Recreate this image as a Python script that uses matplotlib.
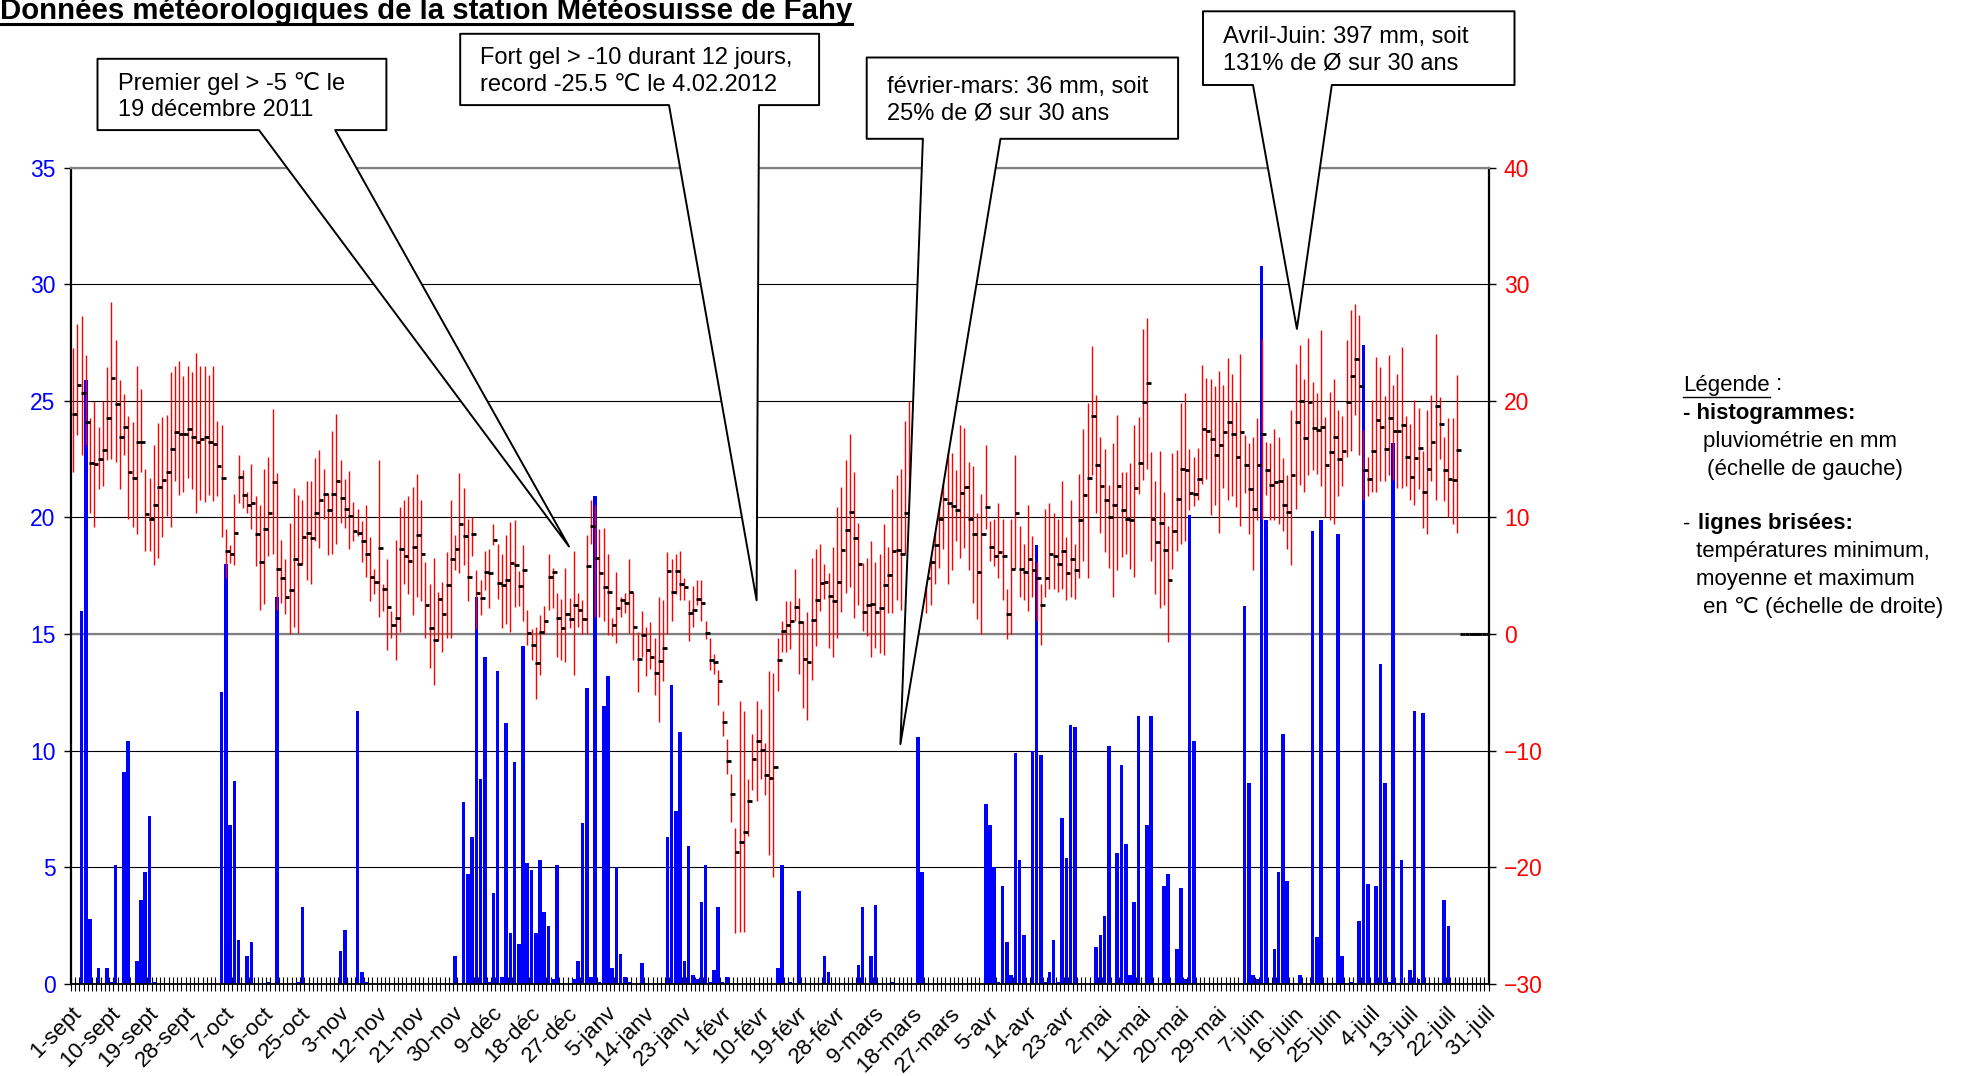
"""
Données météo Fahy (sept 2011 - juil 2012): pluie journalière en barres,
températures min/max (traits rouges) et moyenne (tirets noirs).
"""
import numpy as np
import matplotlib
matplotlib.use('Agg')
import matplotlib.pyplot as plt
import matplotlib.transforms as mtransforms
from matplotlib.patches import Polygon
from matplotlib.lines import Line2D

plt.rcParams['font.family'] = ['Liberation Sans', 'DejaVu Sans']

W, H = 1961, 1076

# ── Données (un jour par valeur, dès le 1er sept) ─────────────────────────────

PRECIP = [
    0, 0, 16.0, 25.9, 2.8, 0, 0.7, 0, 0.7, 0.1,
    5.1, 0, 9.1, 10.4, 0, 1.0, 3.6, 4.8, 7.2, 0.1,
    0, 0, 0, 0, 0, 0, 0, 0, 0, 0,
    0, 0, 0, 0, 0, 12.5, 18.0, 6.8, 8.7, 1.9,
    0, 1.2, 1.8, 0, 0, 0, 0.1, 0, 16.6, 0,
    0, 0, 0, 0.1, 3.3, 0, 0, 0, 0, 0,
    0, 0, 0, 1.4, 2.3, 0, 0, 11.7, 0.5, 0.1,
    0, 0, 0, 0, 0, 0, 0, 0, 0, 0,
    0, 0, 0, 0, 0, 0, 0, 0, 0, 0,
    1.2, 0, 7.8, 4.7, 6.3, 16.6, 8.8, 14.0, 0.1, 3.9,
    13.4, 0.3, 11.2, 2.2, 9.5, 1.7, 14.5, 5.2, 4.9, 2.2,
    5.3, 3.1, 2.5, 0.2, 5.1, 0, 0, 0, 0.2, 1.0,
    6.9, 12.7, 0.3, 20.9, 0.1, 11.9, 13.2, 0.7, 5.0, 1.3,
    0.3, 0.1, 0, 0, 0.9, 0, 0, 0, 0, 0,
    6.3, 12.8, 7.4, 10.8, 1.0, 5.9, 0.4, 0.2, 3.5, 5.1,
    0.1, 0.6, 3.3, 0.1, 0.3, 0, 0, 0, 0, 0,
    0, 0, 0, 0, 0, 0, 0.7, 5.1, 0, 0.1,
    0, 4.0, 0, 0, 0, 0, 0, 1.2, 0.5, 0,
    0, 0, 0, 0, 0, 0.8, 3.3, 0, 1.2, 3.4,
    0, 0, 0, 0.1, 0, 0, 0, 0, 0, 10.6,
    4.8, 0, 0, 0, 0, 0, 0, 0, 0, 0,
    0, 0, 0, 0, 0, 7.7, 6.8, 5.0, 0.1, 4.2,
    1.8, 0.4, 9.9, 5.3, 2.1, 0, 10.0, 18.8, 9.8, 0.1,
    0.5, 1.9, 0.1, 7.1, 5.4, 11.1, 11.0, 0, 0, 0,
    0, 1.6, 2.1, 2.9, 10.2, 0, 5.6, 9.4, 6.0, 0.4,
    3.5, 11.5, 0, 6.8, 11.5, 0, 0, 4.2, 4.7, 0,
    1.5, 4.1, 0.2, 20.1, 10.4, 0, 0, 0, 0, 0,
    0, 0, 0, 0, 0, 0, 16.2, 8.6, 0.4, 0.2,
    30.8, 19.9, 0, 1.5, 4.8, 10.7, 4.4, 0, 0, 0.4,
    0, 0, 19.4, 2.0, 19.9, 0, 0, 0, 19.3, 1.2,
    0, 0.1, 0, 2.7, 27.4, 4.3, 0, 4.2, 13.7, 8.6,
    0.1, 23.2, 0, 5.3, 0, 0.6, 11.7, 0.2, 11.6, 0,
    0, 0, 0, 3.6, 2.5, 0, 0, 0, 0, 0,
    0, 0, 0, 0,
]

TMAX = [
    24.5, 26.6, 27.3, 23.9, 18.5, 20.0, 17.8, 20.0, 22.9, 28.5,
    25.2, 21.8, 20.6, 18.7, 18.2, 23.0, 21.0, 14.2, 13.4, 16.2,
    18.1, 18.6, 18.8, 22.5, 23.0, 23.4, 22.1, 23.0, 22.5, 24.1,
    23.0, 23.0, 22.2, 23.0, 18.3, 17.9, 9.0, 7.6, 12.0, 15.4,
    14.1, 12.2, 14.6, 11.8, 11.1, 14.2, 15.2, 19.3, 13.8, 8.1,
    6.4, 9.5, 12.5, 11.9, 11.5, 13.1, 13.1, 15.1, 15.8, 14.2,
    12.1, 17.4, 18.9, 14.9, 13.3, 14.0, 11.3, 10.7, 9.7, 11.1,
    8.3, 5.6, 14.9, 4.3, 6.4, 2.0, 8.1, 10.9, 11.5, 11.8,
    12.6, 13.7, 11.5, 6.2, 4.3, 6.5, 3.6, 4.5, 7.0, 11.5,
    8.5, 13.8, 12.5, 9.9, 10.0, 5.5, 4.6, 7.1, 7.3, 9.4,
    7.7, 6.9, 8.5, 9.6, 9.8, 5.4, 7.6, 2.1, 0.4, 0.6,
    1.6, 2.4, 6.9, 5.7, 3.5, 3.0, 5.7, 3.1, 7.1, 3.5,
    2.9, 8.5, 11.5, 11.1, 9.0, 9.1, 6.9, 1.4, 5.3, 3.2,
    3.5, 6.4, 3.6, 0.2, 2.0, 0.6, 1.0, -0.3, 3.2, 2.9,
    7.0, 6.4, 6.9, 7.1, 4.8, 2.9, 4.1, 4.6, 4.6, 1.1,
    -0.3, -1.7, -3.1, -6.6, -9.0, -12.0, -16.6, -5.7, -6.6, -12.4,
    -8.6, -5.7, -6.4, -9.3, -3.2, -3.3, -0.3, 1.1, 2.8, 2.8,
    5.6, 3.1, 1.1, 1.9, 6.5, 7.3, 7.7, 6.0, 5.2, 7.5,
    10.9, 12.6, 14.9, 17.2, 13.9, 9.5, 6.1, 6.5, 8.0, 6.2,
    6.9, 9.4, 7.5, 12.4, 13.6, 14.2, 18.3, 20.0, 17.3, 18.3,
    15.5, 9.0, 8.0, 9.4, 14.8, 14.1, 16.3, 15.5, 14.1, 17.9,
    17.7, 14.8, 14.4, 10.4, 12.0, 16.2, 9.7, 9.9, 11.2, 9.9,
    3.9, 9.9, 15.4, 9.3, 7.7, 11.1, 8.4, 6.2, 4.3, 10.7,
    11.2, 10.4, 9.9, 13.1, 8.3, 11.5, 7.7, 13.7, 17.6, 19.8,
    24.7, 20.5, 16.9, 15.9, 12.8, 16.4, 18.8, 13.9, 13.9, 14.7,
    17.9, 18.6, 26.2, 27.1, 15.6, 13.1, 15.7, 12.2, 9.3, 15.5,
    15.8, 19.8, 20.7, 15.9, 15.2, 16.0, 23.1, 22.0, 21.9, 21.3,
    22.6, 21.4, 23.7, 22.3, 19.9, 24.0, 17.1, 16.4, 16.9, 18.5,
    25.3, 16.5, 16.4, 17.6, 16.9, 15.1, 13.6, 19.2, 23.2, 24.8,
    21.9, 25.4, 21.6, 20.7, 26.1, 18.6, 20.8, 21.9, 19.2, 18.7,
    25.2, 27.8, 28.3, 27.4, 17.5, 15.2, 20.1, 23.8, 22.9, 20.4,
    23.9, 21.4, 22.3, 24.6, 18.7, 18.0, 20.1, 19.4, 15.7, 19.2,
    20.5, 25.7, 20.3, 16.9, 18.5, 18.5, 22.2, 0, 0, 0,
    0, 0, 0, 0,
]

TMIN = [
    13.9, 17.1, 15.4, 16.2, 10.4, 9.2, 12.4, 12.7, 14.9, 15.0,
    14.8, 12.4, 15.4, 9.9, 9.2, 8.6, 13.9, 7.1, 7.1, 5.9,
    6.5, 8.3, 10.1, 9.2, 13.1, 11.9, 12.2, 13.4, 12.4, 10.4,
    11.5, 11.3, 11.9, 11.4, 11.8, 8.3, 4.8, 6.1, 5.9, 11.2,
    10.8, 10.4, 9.0, 5.8, 2.1, 2.6, 6.7, 6.9, 2.1, 2.7,
    1.7, 0.0, 0.6, 0.1, 5.9, 4.6, 4.3, 8.0, 7.4, 9.9,
    6.8, 6.9, 7.7, 9.5, 9.1, 7.3, 8.0, 8.4, 6.2, 4.9,
    2.8, 3.4, 1.5, 2.0, -1.4, -0.3, -2.2, 0.2, 4.3, 3.4,
    1.6, 3.2, 2.8, -0.3, -2.9, -4.4, -0.6, -1.5, -0.3, -0.3,
    5.5, 5.2, 5.9, 2.8, 6.7, 0.4, 1.6, 3.8, 2.2, 7.6,
    3.0, 0.5, 0.9, 0.2, 2.3, 2.4, 1.1, -0.9, -2.2, -5.6,
    -3.5, 0.0, 2.1, 2.2, -2.0, -2.2, -2.4, 0.5, -3.5, 0.6,
    0.0, 0.0, 7.7, 1.5, 1.5, 1.1, -0.1, -0.2, -0.8, 1.5,
    1.8, 0.1, -2.2, -5.0, -2.0, -3.6, -3.0, -5.2, -7.5, -4.0,
    0.0, 1.1, 3.4, 2.9, 2.9, -0.6, 0.6, 2.5, 1.1, -0.4,
    -3.1, -3.4, -6.1, -8.7, -12.0, -16.1, -25.6, -25.5, -25.5, -17.3,
    -13.4, -14.3, -12.4, -13.8, -18.9, -20.8, -4.9, -1.5, -1.5, -1.3,
    1.1, -3.4, -6.3, -7.4, -3.9, -1.0, 2.0, 3.0, -1.2, -2.0,
    -0.3, 1.9, 3.5, 4.0, 1.4, 2.5, 0.3, -0.2, -2.0, -1.2,
    -1.6, -1.8, 1.8, 1.8, 2.9, 2.1, 6.9, 7.1, 6.2, 5.2,
    4.3, 1.8, 2.5, 4.3, 5.7, 7.3, 4.3, 5.5, 8.0, 6.5,
    7.4, 5.5, 2.7, 1.3, 0.0, 9.0, 6.3, 5.8, 4.8, 2.9,
    -0.4, 0.0, 5.6, 3.2, 2.9, 2.0, 3.2, 1.1, -0.9, 3.2,
    3.9, 3.9, 3.6, 3.9, 2.9, 3.2, 3.0, 4.8, 6.3, 4.8,
    13.6, 10.4, 8.7, 7.0, 5.7, 3.2, 5.5, 6.6, 6.9, 5.6,
    4.9, 12.0, 13.2, 14.2, 6.3, 3.4, 2.2, 2.5, -0.7, 5.6,
    7.1, 7.7, 8.0, 10.6, 11.0, 11.5, 12.9, 13.3, 10.2, 11.1,
    8.7, 12.5, 11.5, 11.8, 10.9, 9.3, 12.1, 8.6, 5.5, 9.8,
    9.9, 11.9, 9.8, 9.8, 9.4, 8.8, 7.3, 5.9, 10.7, 12.8,
    12.2, 13.6, 14.1, 13.7, 12.7, 10.0, 9.8, 9.4, 11.8, 12.7,
    15.2, 15.7, 18.8, 15.4, 11.5, 11.8, 12.2, 12.2, 13.1, 13.1,
    13.6, 13.2, 12.5, 12.5, 12.7, 11.5, 11.1, 12.4, 9.1, 8.6,
    13.1, 11.5, 15.0, 11.4, 10.0, 9.4, 8.7, 0, 0, 0,
    0, 0, 0, 0,
]

TMEAN = [
    18.9, 21.4, 20.7, 18.2, 14.7, 14.6, 15.0, 15.8, 18.5, 22.0,
    19.7, 16.9, 17.8, 13.9, 13.4, 16.5, 16.5, 10.3, 9.9, 11.1,
    12.6, 13.2, 13.9, 15.9, 17.3, 17.2, 17.2, 17.6, 16.9, 16.5,
    16.7, 16.9, 16.5, 16.3, 14.4, 13.4, 7.1, 6.9, 8.7, 13.5,
    11.9, 11.1, 11.2, 8.6, 6.2, 9.0, 10.4, 13.0, 5.6, 4.8,
    3.2, 3.8, 6.4, 6.0, 8.3, 8.7, 8.2, 10.4, 11.5, 12.0,
    10.6, 12.0, 13.1, 11.7, 10.7, 10.1, 8.8, 8.7, 8.0, 6.9,
    4.9, 4.5, 7.4, 3.9, 2.3, 0.8, 1.4, 7.3, 6.7, 6.3,
    7.5, 8.5, 6.9, 2.5, 0.5, -0.5, 3.0, 1.7, 4.2, 6.4,
    7.3, 9.4, 8.4, 4.9, 8.6, 3.5, 3.1, 5.3, 5.2, 8.1,
    4.4, 4.2, 4.6, 6.1, 5.9, 4.1, 5.5, 0.1, -0.9, -2.5,
    0.2, 1.1, 4.9, 5.3, 1.4, 0.5, 1.7, 1.3, 2.5, 2.1,
    1.3, 5.8, 9.3, 6.5, 5.2, 4.0, 3.6, 0.8, 2.2, 2.9,
    2.7, 3.6, 0.6, -2.1, -0.1, -1.4, -2.0, -3.3, -2.3, -1.2,
    5.4, 3.6, 5.4, 4.3, 4.0, 1.8, 2.1, 3.0, 2.7, 0.1,
    -2.2, -2.4, -4.0, -7.5, -10.9, -13.7, -18.7, -17.8, -17.0, -14.3,
    -10.7, -9.2, -9.9, -12.1, -12.3, -11.4, -2.2, 0.3, 0.8, 1.1,
    2.3, 1.0, -2.1, -2.4, 1.2, 2.9, 4.4, 4.5, 3.3, 2.8,
    4.5, 7.2, 8.9, 10.5, 8.2, 6.0, 1.9, 2.5, 2.6, 1.9,
    2.2, 4.2, 5.1, 7.1, 7.2, 6.9, 10.4, 9.4, 11.8, 11.3,
    9.4, 4.8, 6.2, 7.6, 9.9, 11.6, 11.2, 11.0, 10.6, 12.1,
    12.6, 9.9, 8.6, 5.3, 8.6, 10.9, 7.5, 6.7, 7.0, 6.7,
    1.7, 5.6, 10.4, 5.6, 5.3, 6.4, 5.5, 4.8, 2.5, 4.8,
    6.9, 6.7, 6.0, 7.1, 5.2, 6.4, 5.5, 9.8, 11.9, 13.4,
    18.7, 14.5, 12.7, 11.5, 10.0, 11.1, 12.7, 10.6, 9.9, 9.8,
    12.5, 14.7, 19.9, 21.5, 9.9, 7.9, 9.5, 7.2, 4.6, 8.8,
    11.6, 14.2, 14.1, 12.1, 12.0, 13.3, 17.6, 17.4, 16.7, 15.4,
    16.2, 17.3, 18.2, 17.2, 15.2, 17.3, 14.5, 12.4, 10.7, 14.5,
    17.2, 14.1, 12.8, 13.0, 13.1, 11.1, 10.5, 13.6, 18.2, 20.0,
    16.8, 19.9, 17.7, 17.5, 17.8, 14.5, 15.6, 16.9, 15.0, 15.7,
    19.9, 22.1, 23.6, 21.3, 14.1, 13.3, 15.7, 18.4, 17.8, 15.9,
    18.5, 17.4, 17.4, 17.9, 15.2, 13.5, 15.1, 16.0, 12.2, 14.2,
    16.5, 19.6, 18.0, 14.1, 13.3, 13.2, 15.8, 0, 0, 0,
    0, 0, 0, 0,
]

DATE_LABELS = [
    "1-sept", "10-sept", "19-sept", "28-sept", "7-oct", "16-oct", "25-oct",
    "3-nov", "12-nov", "21-nov", "30-nov", "9-déc", "18-déc", "27-déc",
    "5-janv", "14-janv", "23-janv", "1-févr", "10-févr", "19-févr", "28-févr",
    "9-mars", "18-mars", "27-mars", "5-avr", "14-avr", "23-avr", "2-mai",
    "11-mai", "20-mai", "29-mai", "7-juin", "16-juin", "25-juin", "4-juil",
    "13-juil", "22-juil", "31-juil",
]
LABEL_STEP = 9

TITLE = "Données météorologiques de la station Météosuisse de Fahy"

# bulles: texte, boîte (g, h, d, b), base de la pointe, bout de la pointe  [px]
CALLOUTS = [
    ("Premier gel > -5 ℃ le\n19 décembre 2011",
     (97.5, 58.8, 386.4, 130.1), (259, 335.2), (569, 546.5)),
    ("Fort gel > -10 durant 12 jours,\nrecord -25.5 ℃ le 4.02.2012",
     (460.2, 33.8, 819.1, 105.1), (669, 759), (756.6, 600.3)),
    ("février-mars: 36 mm, soit\n25% de Ø sur 30 ans",
     (866.7, 57.5, 1178.1, 138.8), (922.9, 1000.5), (900.4, 744.1)),
    ("Avril-Juin: 397 mm, soit\n131% de Ø sur 30 ans",
     (1203, 11.3, 1514.5, 85.0), (1253, 1331.8), (1296.9, 328.9)),
]

# ── Figure ───────────────────────────────────────────────────────────────────

fig = plt.figure(figsize=(W / 100, H / 100), dpi=100)
fig.patch.set_facecolor('white')
# coordonnées en pixels, origine en haut à gauche
px = mtransforms.Affine2D().scale(1 / W, -1 / H).translate(0, 1) + fig.transFigure

ax = fig.add_axes([71 / W, 1 - 984 / H, (1488.7 - 71) / W, (984 - 167.6) / H])
ax2 = ax.twinx()

n = len(PRECIP)
x = np.arange(n)

# pluviométrie (échelle de gauche)
ax.bar(x, PRECIP, width=0.85, color='#0000ff', edgecolor='none', zorder=3)
ax.set_xlim(-0.5, n - 0.5)
ax.set_ylim(0, 35)
ax.set_yticks(np.arange(0, 36, 5))
ax.grid(axis='y', color='black', linewidth=0.8)
ax.set_axisbelow(True)
ax.axhline(15, color='#808080', linewidth=1.6, zorder=1)

# températures (échelle de droite)
ax2.vlines(x, TMIN, TMAX, color='#ff0000', linewidth=1.0)
ax2.hlines(TMEAN, x - 0.15, x + 0.95, color='black', linewidth=2.0)
ax2.set_ylim(-30, 40)
ax2.set_yticks(np.arange(-30, 41, 10))

for sp in ax.spines.values():
    sp.set_visible(False)
ax2.spines['top'].set_color('#808080')
ax2.spines['top'].set_linewidth(1.6)
for side in ('left', 'right'):
    ax2.spines[side].set_linewidth(1.6)
ax2.spines['bottom'].set_linewidth(1.3)

ax.tick_params(axis='y', direction='out', length=5, width=1, pad=6,
               labelsize=16.5, labelcolor='#0000ff')
ax2.tick_params(axis='y', direction='out', length=5, width=1, pad=6,
                labelsize=16.5, labelcolor='#ff0000')

# une graduation par jour, étiquettes tous les 9 jours
ax.set_xticks(np.arange(-0.5, n, 1))
ax.set_xticklabels([])
ax.tick_params(axis='x', direction='inout', length=10, width=0.8)
lab_tr = ax.get_xaxis_transform() + mtransforms.ScaledTranslation(
    -2 / 100, -19 / 100, fig.dpi_scale_trans)
for xi, lab in zip(x[::LABEL_STEP], DATE_LABELS):
    ax.text(xi, 0, lab, transform=lab_tr, rotation=45, rotation_mode='anchor',
            ha='right', va='top', fontsize=16.2)

# ── Titre souligné ───────────────────────────────────────────────────────────

t = fig.text(0, 19, TITLE, transform=px, fontsize=21.2, fontweight='bold',
             ha='left', va='baseline')
fig.canvas.draw()
bb = t.get_window_extent()
fig.add_artist(Line2D([0, bb.x1 / W], [1 - 24 / H] * 2,
                      transform=fig.transFigure, color='black', linewidth=2.2))

# ── Bulles ───────────────────────────────────────────────────────────────────

for text, (l, tp, r, b), (b1, b2), tip in CALLOUTS:
    pts = [(l, tp), (r, tp), (r, b), (b2, b), tip, (b1, b), (l, b)]
    poly = Polygon(pts, closed=True, transform=px, facecolor='white',
                   edgecolor='black', linewidth=1.4, joinstyle='round',
                   zorder=10, clip_on=False)
    fig.add_artist(poly)
    fig.text(l + 20, (tp + b) / 2 + 2, text, transform=px, fontsize=17,
             ha='left', va='center', linespacing=1.25, zorder=11)

# ── Légende ──────────────────────────────────────────────────────────────────

lg = fig.text(1683, 385, "Légende", transform=px, fontsize=16, va='center')
fig.canvas.draw()
lb = lg.get_window_extent()
fig.text(lb.x1 / W, 1 - 385 / H, " :", fontsize=16, va='center')
fig.add_artist(Line2D([lb.x0 / W, lb.x1 / W], [(lb.y0 - 1) / H] * 2,
                      transform=fig.transFigure, color='black', linewidth=1.0))

fig.text(1683, 413, "- histogrammes:", transform=px, fontsize=16,
         fontweight='bold', va='center')
fig.text(1703, 441, "pluviométrie en mm", transform=px, fontsize=16, va='center')
fig.text(1707, 469, "(échelle de gauche)", transform=px, fontsize=16, va='center')
fig.text(1683, 524, "-", transform=px, fontsize=16, va='center')
fig.text(1698, 524, "lignes brisées:", transform=px, fontsize=16,
         fontweight='bold', va='center')
fig.text(1696, 551, "températures minimum,", transform=px, fontsize=16, va='center')
fig.text(1696, 579, "moyenne et maximum", transform=px, fontsize=16, va='center')
fig.text(1703, 607, "en ℃ (échelle de droite)", transform=px, fontsize=16,
         va='center')

fig.savefig('out.png', dpi=100, facecolor='white')
